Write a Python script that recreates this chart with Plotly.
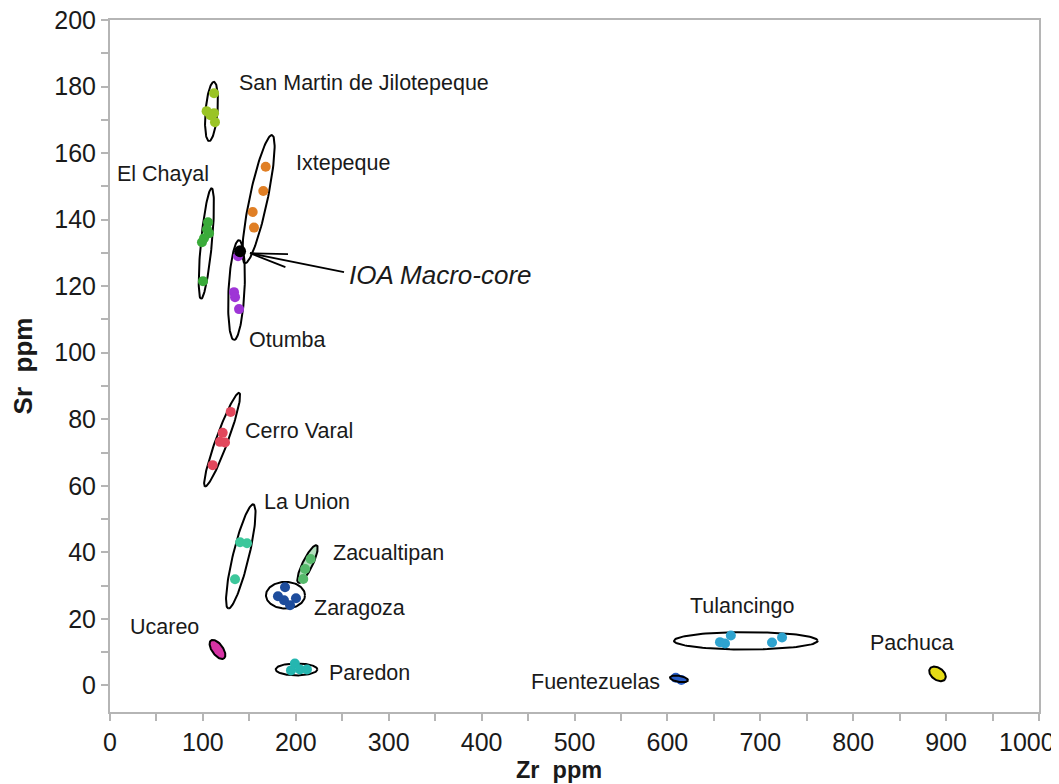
import numpy as np
import plotly.graph_objects as go

# ---------------- data (Zr ppm, Sr ppm) ----------------
groups = ["San Martin de Jilotepeque", "El Chayal", "Ixtepeque", "Otumba",
          "Cerro Varal", "La Union", "Zacualtipan", "Zaragoza", "Ucareo",
          "Paredon", "Tulancingo", "Fuentezuelas", "Pachuca"]

zr_sanmartin = [112, 104, 112, 108, 113]
sr_sanmartin = [178, 172.6, 172, 171.4, 169.3]
zr_chayal = [105.5, 104.4, 106.6, 101.2, 99, 100.1]
sr_chayal = [139.2, 137.1, 135.9, 134.4, 133.2, 121.5]
zr_ixtepeque = [167.6, 165, 153.6, 155]
sr_ixtepeque = [155.9, 148.6, 142.3, 137.6]
zr_otumba = [137.8, 133.5, 134.6, 138.9]
sr_otumba = [129, 118.2, 116.7, 113.1]
zr_cerro = [129.9, 121.3, 118.4, 123.8, 110.5]
sr_cerro = [82.2, 75.9, 73.2, 73, 66.2]
zr_launion = [140, 147.5, 134.6]
sr_launion = [43, 42.7, 31.9]
zr_zacualtipan = [216, 210, 208]
sr_zacualtipan = [38, 35, 32]
zr_zaragoza = [188.4, 180.8, 187.3, 193.8, 200.2]
sr_zaragoza = [29.5, 26.8, 25.6, 24.1, 26.2]
zr_ucareo = [114, 118]
sr_ucareo = [12, 10]
zr_paredon = [199, 194.8, 204.5, 212]
sr_paredon = [6.6, 4.5, 4.8, 4.8]
zr_tulancingo = [656.6, 662, 668.3, 712.6, 723.4]
sr_tulancingo = [13, 12.6, 15, 12.9, 14.4]
zr_fuentezuelas = [609, 615]
sr_fuentezuelas = [2.3, 1.6]
zr_pachuca = [889, 892]
sr_pachuca = [4, 3]
zr_ioa = [140]
sr_ioa = [130.5]

zr_sets = [zr_sanmartin, zr_chayal, zr_ixtepeque, zr_otumba, zr_cerro, zr_launion,
           zr_zacualtipan, zr_zaragoza, zr_ucareo, zr_paredon, zr_tulancingo,
           zr_fuentezuelas, zr_pachuca]
sr_sets = [sr_sanmartin, sr_chayal, sr_ixtepeque, sr_otumba, sr_cerro, sr_launion,
           sr_zacualtipan, sr_zaragoza, sr_ucareo, sr_paredon, sr_tulancingo,
           sr_fuentezuelas, sr_pachuca]

colors = ["#9ac424", "#3aab3a", "#e07f25", "#9e35d6", "#e2475c", "#3cc79b",
          "#55b86a", "#1d4c9c", "#d633a5", "#25b6b0", "#2ea3cf", "#2a5fc9", "#e5dc16"]

# confidence ellipses: major-axis end points (data units) and half-width (px)
ell_x1 = [111.9, 109.4, 174.4, 138.9, 139.1, 154.3, 222.5, 167.9, 108.7, 178.4, 607.1, 602.8, 882.7]
ell_y1 = [181.4, 149.4, 165.4, 133.8, 87.9, 54.4, 42.1, 27.1, 13.5, 4.8, 13.4, 2.4, 5.1]
ell_x2 = [106.6, 98.0, 145.3, 133.5, 102.3, 127.3, 202.7, 209.9, 122.7, 223.2, 761.8, 622.2, 898.8]
ell_y2 = [163.6, 116.2, 126.9, 103.8, 59.8, 23.1, 30.8, 27.1, 8.1, 4.8, 13.4, 1.5, 1.8]
ell_w = [6, 5.5, 9, 8, 6, 8, 5, 13.3, 5.5, 6, 8.7, 3, 6]
ell_fill = [None, None, None, None, None, None, "rgba(85,184,106,0.45)", None,
            "#d633a5", None, None, "#2a5fc9", "#e5dc16"]

# labels
label_x = [136.7, 5.4, 198, 147.5, 143, 163.6, 237.9, 217.4, 19.4, 233.6, 622.2, 451, 816]
label_y = [181, 153.7, 157, 103.8, 76.4, 55, 39.7, 23.2, 17.7, 3.6, 23.8, 0.9, 12.6]

ioa_label = "IOA Macro-core"
ioa_label_x, ioa_label_y = 255, 123.3
arrow_tail = (251.9, 124.2)
arrow_tip = (150.7, 129.9)

# axis ticks (the last x label is drawn separately so it stays inside the page)
x_tickvals = [0, 100, 200, 300, 400, 500, 600, 700, 800, 900, 1000]
x_ticktext = ["0", "100", "200", "300", "400", "500", "600", "700", "800", "900", ""]
x_last_label = "1000"
x_title = "Zr\u00a0\u00a0ppm"
y_title = "Sr\u00a0\u00a0ppm"

# ---------------- geometry helpers ----------------
X0, X1, Y0, Y1 = 0, 1000, -8, 200
# page body has an 8px default margin; figure is sized to fit the 1059x784 window
W, H = 1051, 776
ML, MR, MT, MB = 102, 20, 12, 72
PW, PH = W - ML - MR, H - MT - MB


def to_px(x, y):
    return (np.asarray(x, float) - X0) * PW / (X1 - X0), (np.asarray(y, float) - Y0) * PH / (Y1 - Y0)


def to_data(px, py):
    return px * (X1 - X0) / PW + X0, py * (Y1 - Y0) / PH + Y0


def ellipse(x1, y1, x2, y2, w, n=120):
    p1 = np.array(to_px(x1, y1))
    p2 = np.array(to_px(x2, y2))
    c = (p1 + p2) / 2
    a = (p2 - p1) / 2
    L = np.hypot(*a)
    u = a / L
    nv = np.array([-u[1], u[0]])
    t = np.linspace(0, 2 * np.pi, n)
    px = c[0] + a[0] * np.cos(t) + nv[0] * w * np.sin(t)
    py = c[1] + a[1] * np.cos(t) + nv[1] * w * np.sin(t)
    return to_data(px, py)


fig = go.Figure()

# open ellipses first
for i in range(len(groups)):
    if ell_fill[i] is None or ell_fill[i].startswith("rgba"):
        ex, ey = ellipse(ell_x1[i], ell_y1[i], ell_x2[i], ell_y2[i], ell_w[i])
        fig.add_trace(go.Scatter(x=ex, y=ey, mode="lines",
                                 line=dict(color="black", width=2),
                                 fill="toself" if ell_fill[i] else None,
                                 fillcolor=ell_fill[i] if ell_fill[i] else None,
                                 hoverinfo="skip", showlegend=False))

# points
for i, g in enumerate(groups):
    fig.add_trace(go.Scatter(x=zr_sets[i], y=sr_sets[i], mode="markers", name=g,
                             marker=dict(color=colors[i], size=10, line=dict(width=0)),
                             showlegend=False))

# filled small ellipses on top
for i in range(len(groups)):
    if ell_fill[i] is not None and not ell_fill[i].startswith("rgba"):
        ex, ey = ellipse(ell_x1[i], ell_y1[i], ell_x2[i], ell_y2[i], ell_w[i])
        fig.add_trace(go.Scatter(x=ex, y=ey, mode="lines",
                                 line=dict(color="black", width=2),
                                 fill="toself", fillcolor=ell_fill[i],
                                 hoverinfo="skip", showlegend=False))

# IOA macro-core
fig.add_trace(go.Scatter(x=zr_ioa, y=sr_ioa, mode="markers", name="IOA Macro-core",
                         marker=dict(color="black", size=12), showlegend=False))

# arrow (shaft + open barbs)
tx, ty = to_px(*arrow_tail)
hx, hy = to_px(*arrow_tip)
d = np.array([tx - hx, ty - hy])
d = d / np.hypot(*d)
blen = 38
ax_list, ay_list = [float(tx), float(hx)], [float(ty), float(hy)]
for ang in (np.radians(10), -np.radians(10)):
    r = np.array([d[0] * np.cos(ang) - d[1] * np.sin(ang), d[0] * np.sin(ang) + d[1] * np.cos(ang)])
    ax_list += [None, float(hx), float(hx + r[0] * blen)]
    ay_list += [None, float(hy), float(hy + r[1] * blen)]
axd, ayd = [], []
for px_, py_ in zip(ax_list, ay_list):
    if px_ is None:
        axd.append(None); ayd.append(None)
    else:
        xx, yy = to_data(px_, py_)
        axd.append(float(xx)); ayd.append(float(yy))
fig.add_trace(go.Scatter(x=axd, y=ayd, mode="lines", line=dict(color="black", width=1.8),
                         hoverinfo="skip", showlegend=False))

FONT = "Liberation Sans, Arial, sans-serif"
NARROW = "Liberation Sans Narrow, Arial Narrow, Liberation Sans, sans-serif"
for i, g in enumerate(groups):
    fig.add_annotation(x=label_x[i], y=label_y[i], text=g, showarrow=False,
                       xanchor="left", yanchor="middle",
                       font=dict(family=FONT, size=21.5, color="#1a1a1a"))
fig.add_annotation(x=ioa_label_x, y=ioa_label_y, text="<i>" + ioa_label + "</i>", showarrow=False,
                   xanchor="left", yanchor="middle",
                   font=dict(family=FONT, size=26, color="#1a1a1a"))

# last x tick label, right-aligned so it is not cut by the page edge
fig.add_annotation(xref="x", yref="paper", x=x_tickvals[-1], y=0, xshift=18, yshift=-30,
                   xanchor="right", yanchor="middle", showarrow=False,
                   text=x_last_label, font=dict(family=NARROW, size=25, color="#1a1a1a"))

# x-axis title (slightly left of centre, as in the reference)
fig.add_annotation(xref="paper", yref="paper", x=0.483, y=0, yshift=-58,
                   xanchor="center", yanchor="middle", showarrow=False,
                   text="<b>" + x_title + "</b>",
                   font=dict(family=FONT, size=23.5, color="#1a1a1a"))

axis_common = dict(showline=True, linecolor="#b5b5b5", linewidth=2, mirror=True,
                   showgrid=False, zeroline=False, ticks="outside", ticklen=7,
                   tickcolor="#b5b5b5", tickwidth=1.5, automargin=False,
                   ticklabeloverflow="allow")

fig.update_xaxes(range=[X0, X1], tickmode="array", tickvals=x_tickvals, ticktext=x_ticktext,
                 minor=dict(dtick=50, tick0=0, ticks="outside", ticklen=7, tickcolor="#b5b5b5", tickwidth=1.5),
                 tickfont=dict(family=NARROW, size=25, color="#1a1a1a"),
                 **axis_common)
fig.update_yaxes(range=[Y0, Y1], dtick=20, tick0=0,
                 minor=dict(dtick=10, ticks="outside", ticklen=7, tickcolor="#b5b5b5", tickwidth=1.5),
                 tickfont=dict(family=FONT, size=25, color="#1a1a1a"),
                 title=dict(text="<b>" + y_title + "</b>", standoff=14,
                            font=dict(family=NARROW, size=26, color="#1a1a1a")),
                 **axis_common)

fig.update_layout(width=W, height=H, margin=dict(l=ML, r=MR, t=MT, b=MB),
                  plot_bgcolor="white", paper_bgcolor="white", showlegend=False)

fig.write_html("out.html")
